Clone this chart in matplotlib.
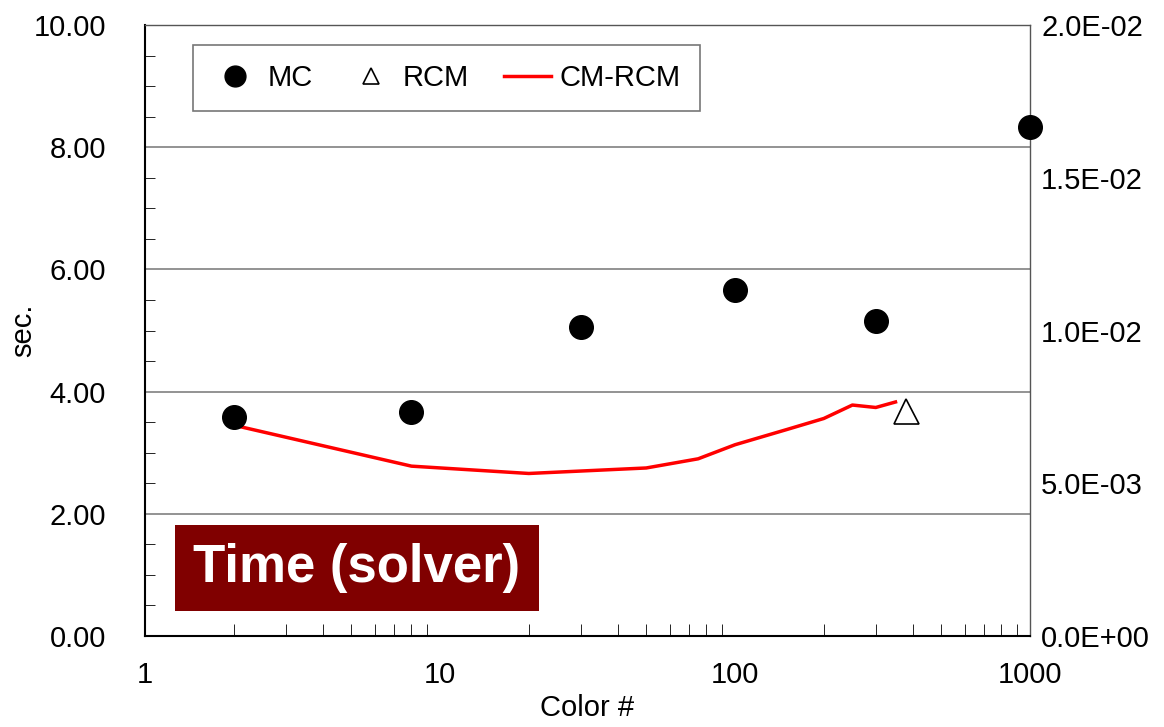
import matplotlib.pyplot as plt
import matplotlib.ticker as mticker
from matplotlib.lines import Line2D

plt.rcParams['font.family'] = ['Liberation Sans', 'DejaVu Sans']

# MC points
mc_x = [2, 8, 30, 100, 300, 1000]
mc_y = [3.58, 3.67, 5.06, 5.66, 5.16, 8.33]

# RCM point
rcm_x = [380]
rcm_y = [3.68]

# CM-RCM line
cm_x = [2, 8, 20, 50, 75, 100, 150, 200, 250, 300, 350]
cm_y = [3.45, 2.78, 2.66, 2.75, 2.90, 3.13, 3.38, 3.56, 3.78, 3.74, 3.83]

fig = plt.figure(figsize=(11.64, 7.27), dpi=100)
ax = fig.add_axes([145 / 1164, 1 - 636 / 727, 885 / 1164, 611 / 727])

ax.set_xscale('log')
ax.set_xlim(1, 1000)
ax.set_ylim(0, 10)

for yy in [2, 4, 6, 8]:
    ax.axhline(yy, color='#808080', lw=1.2, zorder=0)

ax.plot(cm_x, cm_y, color='red', lw=2.5, zorder=2)
ax.plot(mc_x, mc_y, 'o', color='black', ms=17, clip_on=False, zorder=3)
ax.plot(rcm_x, rcm_y, '^', mfc='white', mec='black', mew=1.2, ms=18, zorder=3)

ax.yaxis.set_major_locator(mticker.MultipleLocator(2))
ax.yaxis.set_minor_locator(mticker.MultipleLocator(0.5))
ax.yaxis.set_major_formatter(mticker.FormatStrFormatter('%.2f'))
ax.xaxis.set_major_formatter(mticker.FuncFormatter(lambda v, p: '%d' % v))
ax.tick_params(axis='both', which='both', direction='in', labelsize=21)
ax.tick_params(axis='y', which='major', length=0, pad=28)
ax.tick_params(axis='y', which='minor', length=7)
ax.tick_params(axis='x', which='major', length=0, pad=18)
ax.tick_params(axis='x', which='minor', length=9)
ax.xaxis.set_minor_formatter(mticker.NullFormatter())

for s in ['left', 'bottom']:
    ax.spines[s].set_linewidth(1.5)
for s in ['top', 'right']:
    ax.spines[s].set_linewidth(1.0)
    ax.spines[s].set_color('#555555')

ax.set_ylabel('sec.', fontsize=21)
ax.yaxis.set_label_coords(-108 / 885, 0.5)
ax.set_xlabel('Color #', fontsize=21)
ax.xaxis.set_label_coords(0.5, -58 / 611)

ax2 = ax.twinx()
ax2.set_ylim(0, 0.02)
ax2.yaxis.set_major_locator(mticker.MultipleLocator(0.005))
ax2.yaxis.set_major_formatter(mticker.FuncFormatter(lambda v, p: '%.1E' % v))
ax2.tick_params(axis='y', length=0, labelsize=21, pad=8)
for s in ax2.spines.values():
    s.set_visible(False)

handles = [
    Line2D([], [], ls='none', marker='o', color='black', ms=15),
    Line2D([], [], ls='none', marker='^', mfc='white', mec='black', mew=1.2, ms=11),
    Line2D([], [], color='red', lw=2.5),
]
labels = ['MC', 'RCM', 'CM-RCM']
leg = ax.legend(handles, labels, ncol=3, loc='upper left',
                bbox_to_anchor=(48 / 885, 1 - 20 / 611), borderaxespad=0,
                fontsize=21, frameon=True, fancybox=False, edgecolor='#555555',
                handlelength=1.6, handletextpad=0.3, columnspacing=1.2,
                borderpad=0.65)
leg.get_frame().set_linewidth(1.2)

fig.text(193 / 1164, 1 - 568 / 727, 'Time (solver)', color='white', fontsize=38,
         fontweight='bold', va='center', ha='left',
         bbox=dict(boxstyle='square,pad=0.35', fc='#800000', ec='none'))

fig.savefig('out.png', dpi=100)
